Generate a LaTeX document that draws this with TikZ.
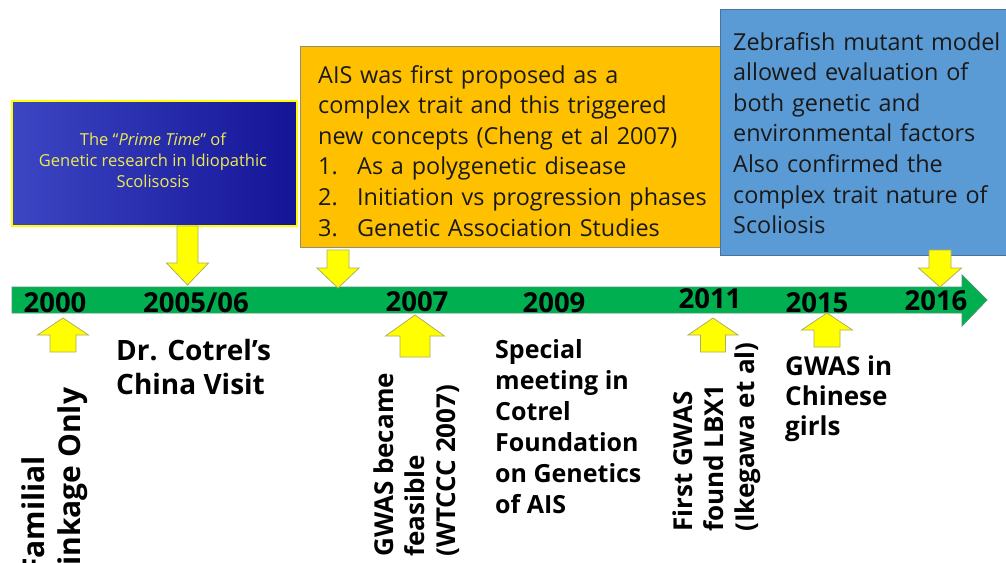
\documentclass[tikz,border=0pt]{standalone}
\usepackage{fontspec}
\setmainfont{Open Sans}
\usepackage{tikz}
\usetikzlibrary{positioning,calc}
\definecolor{barGreen}{RGB}{0,176,80}
\definecolor{barEdge}{RGB}{70,150,110}
\definecolor{arrowYellow}{RGB}{255,255,0}
\definecolor{arrowEdge}{RGB}{175,175,95}
\definecolor{aisOrange}{RGB}{255,192,0}
\definecolor{aisEdge}{RGB}{150,140,110}
\definecolor{zebraBlue}{RGB}{91,155,213}
\definecolor{zebraEdge}{RGB}{70,115,160}
\definecolor{primeLight}{RGB}{60,70,195}
\definecolor{primeDark}{RGB}{20,20,150}
\definecolor{primeText}{RGB}{235,235,80}
\tikzset{
  timebar/.style={fill=barGreen, draw=barEdge, line width=0.8pt},
  yarrow/.style={fill=arrowYellow, draw=arrowEdge, line width=0.8pt},
  primebox/.style={rectangle, anchor=north west, left color=primeLight, right color=primeDark, draw=arrowYellow, line width=2pt, minimum width=285pt, minimum height=125pt, inner sep=0pt},
  aisbox/.style={rectangle, anchor=north west, fill=aisOrange, draw=aisEdge, line width=0.8pt, minimum width=440pt, minimum height=201pt, inner sep=0pt},
  zebrabox/.style={rectangle, anchor=north west, fill=zebraBlue, draw=zebraEdge, line width=0.8pt, minimum width=286pt, minimum height=246pt, inner sep=0pt},
  primetext/.style={anchor=base, inner sep=0pt, align=center, text=primeText, font=\fontsize{16.5}{21}\selectfont},
  boxtext/.style={anchor=base west, inner sep=0pt, align=left, text=black!90, font=\fontsize{23.4}{30.6}\selectfont},
  year/.style={anchor=base, inner sep=0pt, font=\fontsize{27.5}{30}\selectfont\bfseries},
  event/.style={anchor=base west, inner sep=0pt, align=left, font=\fontsize{25}{31}\selectfont\bfseries},
  vevent/.style={event, rotate=90, font=\fontsize{26}{31}\selectfont\bfseries}
}
\newcommand{\blockarr}[6]{\draw[yarrow] (#1,#2) -- (#1+#5,#3) -- (#1+#6,#3) -- (#1+#6,#4) -- (#1-#6,#4) -- (#1-#6,#3) -- (#1-#5,#3) -- cycle;}
\newcommand{\numitem}[2]{\makebox[39pt][l]{#1}#2}

\begin{document}
\begin{tikzpicture}[x=1pt, y=-1pt]
\path[use as bounding box, fill=white] (0,0) rectangle (1006,562);

% timeline
\draw[timebar] (12,287) -- (962,287) -- (962,275) -- (987,300) -- (962,326) -- (962,313) -- (12,313) -- cycle;
\node[year] (y2000) at (55,312) {2000};
\node[year] (y2005) at (196,312) {2005/06};
\node[year] (y2007) at (417,311) {2007};
\node[year] (y2009) at (554,312) {2009};
\node[year] (y2011) at (710,308) {2011};
\node[year] (y2015) at (817,312) {2015};
\node[year] (y2016) at (936,310) {2016};

% boxes above
\node[primebox] (prime) at (11,100) {};
\node[primetext] (prime-t) at (153,187) {The “\textit{Prime Time}” of\\Genetic research in Idiopathic\\Scolisosis};

\node[aisbox] (ais) at (300,46) {};
\node[boxtext, text width=420pt] (ais-t) at (318,83) {AIS was first proposed as a\\complex trait and this triggered\\new concepts (Cheng et al 2007)\\\numitem{1.}{As a polygenetic disease}\\\numitem{2.}{Initiation vs progression phases}\\\numitem{3.}{Genetic Association Studies}};

\node[zebrabox] (zebra) at (720,9) {};
\node[boxtext, text width=280pt] (zebra-t) at (733,50) {Zebrafish mutant model\\allowed evaluation of\\both genetic and\\environmental factors\\Also confirmed the\\complex trait nature of\\Scoliosis};

% arrows
\blockarr{187.5}{285}{263}{226}{21}{10.5}
\blockarr{338}{288}{268}{250}{21}{11}
\blockarr{940}{287}{268}{250}{21.5}{11}
\blockarr{63}{318}{335}{352}{25.5}{13}
\blockarr{415}{315}{336}{357}{29.5}{15}
\blockarr{713}{318}{335}{352}{25}{12.5}
\blockarr{827}{313}{330}{347}{25.5}{13}

% events below
\node[vevent, font=\fontsize{30}{36}\selectfont\bfseries] (familial) at (80,575) {Familial\\linkage Only};
\node[event, font=\fontsize{28}{34}\selectfont\bfseries] (cotrel) at (116,394) {Dr. Cotrel’s\\China Visit};
\node[vevent] (gwas07) at (455,557) {GWAS became\\feasible\\(WTCCC 2007)};
\node[event] (meeting) at (495,513) {Special\\meeting in\\Cotrel\\Foundation\\on Genetics\\of AIS};
\node[vevent] (gwas11) at (754,532) {First GWAS\\found LBX1\\(Ikegawa et al)};
\node[event, font=\fontsize{26}{30}\selectfont\bfseries] (chinese) at (785,435) {GWAS in\\Chinese\\girls};
\end{tikzpicture}
\end{document}
